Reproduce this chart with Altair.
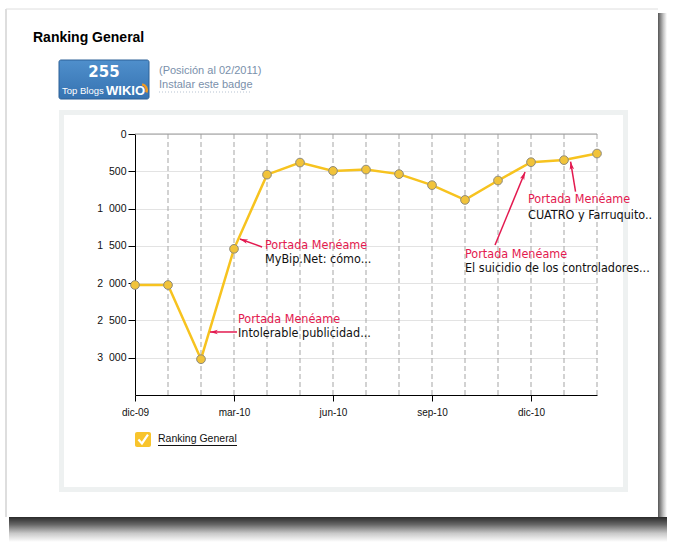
import math
import altair as alt
import pandas as pd

# ---------------- data ----------------
months = ["dic-09", "ene-10", "feb-10", "mar-10", "abr-10", "may-10", "jun-10",
          "jul-10", "ago-10", "sep-10", "oct-10", "nov-10", "dic-10", "ene-11", "feb-11"]
ranks = [2025, 2025, 3020, 1540, 545, 383, 495, 477, 538, 686, 884, 624, 378, 350, 262]
y_ticks = [0, 500, 1000, 1500, 2000, 2500, 3000]
x_tick_months = ["dic-09", "mar-10", "jun-10", "sep-10", "dic-10"]

ann_title = ["Portada Menéame"] * 4
ann_text = ["MyBip.Net: cómo...", "Intolerable publicidad...",
            "El suicidio de los controladores...", "CUATRO y Farruquito.."]
# annotation anchors in data units (month index, rank)
ann_tx = [3.94, 3.12, 10.0, 11.91]
ann_v1 = [1488, 2481, 1609, 876]
ann_v2 = [1676, 2669, 1797, 1086]
arr_x_tail = [3.85, 3.09, 10.91, 13.35]
arr_v_tail = [1515, 2655, 1488, 774]
arr_x_head = [3.18, 2.27, 11.82, 13.20]
arr_v_head = [1408, 2655, 510, 371]

# ---------------- layout ----------------
W, H = 462, 261
OX, OY = 135, 134
X_MAX, Y_MAX = 14, 3500


def X(v):
    return v - OX


def Y(v):
    return v - OY


CRIMSON = "#e3194f"
NARROW = "Liberation Sans Narrow, DejaVu Sans Condensed, Roboto Condensed, Arial Narrow, sans-serif"
SANS = "Liberation Sans, Arial, sans-serif"

xs = alt.Scale(domain=[0, X_MAX], nice=False, zero=False)
ys = alt.Scale(domain=[0, Y_MAX], reverse=True, nice=False, zero=False)

df = pd.DataFrame({"idx": list(range(len(months))), "month": months, "rank": ranks})

px_per_x = W / X_MAX
px_per_y = H / Y_MAX
angles = []
for xt, vt, xh, vh in zip(arr_x_tail, arr_v_tail, arr_x_head, arr_v_head):
    dx = (xh - xt) * px_per_x
    dy = (vh - vt) * px_per_y
    angles.append(math.degrees(math.atan2(dx, -dy)) % 360)

ann = pd.DataFrame({
    "t1": ann_title, "t2": ann_text, "tx": ann_tx, "v1": ann_v1, "v2": ann_v2,
    "xt": arr_x_tail, "vt": arr_v_tail, "xh": arr_x_head, "vh": arr_v_head, "ang": angles,
})

one = pd.DataFrame({"k": [0]})

label_months = "[" + ",".join("'" + m + "'" for m in months) + "]"
x_vals = [months.index(m) for m in x_tick_months]

x_axis = alt.Axis(
    values=x_vals, labelExpr=label_months + "[datum.value]", grid=False,
    tickSize=6, labelPadding=6, domainColor="#000", tickColor="#000",
    labelFont=SANS, labelFontSize=10, labelColor="#111", labelFlush=False, title=None)
y_axis = alt.Axis(
    values=y_ticks, labelExpr="replace(format(datum.value, ','), ',', '\u2007')",
    grid=True, gridColor="#e3e3e3", tickSize=7, labelPadding=2,
    domainColor="#000", tickColor="#000", labelFont=SANS, labelFontSize=10.5,
    labelColor="#111", title=None)


def XE(field):
    return alt.X(field, scale=xs, axis=x_axis, title=None)


def YE(field):
    return alt.Y(field, scale=ys, axis=y_axis, title=None)


def txt(s, x, y, size, color="#000", font=SANS, weight="normal", align="left"):
    return alt.Chart(one).mark_text(
        text=s, fontSize=size, color=color, font=font, fontWeight=weight,
        align=align, baseline="middle"
    ).encode(x=alt.value(X(x)), y=alt.value(Y(y)))


def rect(x1, y1, x2, y2, **kw):
    return alt.Chart(one).mark_rect(**kw).encode(
        x=alt.value(X(x1)), x2=alt.value(X(x2)), y=alt.value(Y(y1)), y2=alt.value(Y(y2)))


def hrule(x1, x2, y, **kw):
    return alt.Chart(one).mark_rule(**kw).encode(
        x=alt.value(X(x1)), x2=alt.value(X(x2)), y=alt.value(Y(y)))


def vrule(x, y1, y2, **kw):
    return alt.Chart(one).mark_rule(**kw).encode(
        x=alt.value(X(x)), y=alt.value(Y(y1)), y2=alt.value(Y(y2)))


# ---------------- page decoration (the white card is the page background) ----------------
shadow_right = rect(658, 13, 667, 536, fill=alt.Gradient(
    gradient="linear", x1=0, x2=1, y1=0, y2=0,
    stops=[alt.GradientStop(color="#555555", offset=0),
           alt.GradientStop(color="#c4c4c4", offset=0.6),
           alt.GradientStop(color="#ffffff", offset=1)]))
shadow_bottom = rect(9, 517, 667, 542, fill=alt.Gradient(
    gradient="linear", x1=0, x2=0, y1=0, y2=1,
    stops=[alt.GradientStop(color="#2a2a2a", offset=0),
           alt.GradientStop(color="#666666", offset=0.3),
           alt.GradientStop(color="#c8c8c8", offset=0.65),
           alt.GradientStop(color="#ffffff", offset=1)]))
card_left = vrule(6, 9, 517, color="#bdbdbd", strokeWidth=1)
card_top = hrule(6, 658, 9, color="#dedede", strokeWidth=1)

panel = rect(61.5, 112.5, 625.5, 489.5, fill="white", fillOpacity=0,
             stroke="#eef1f1", strokeWidth=5)

title = txt("Ranking General", 33, 38, 14, weight="bold")

badge = rect(59, 60, 149, 99, cornerRadius=2, stroke="#2d6197", strokeWidth=1,
             fill=alt.Gradient(gradient="linear", x1=0, x2=0, y1=0, y2=1,
                               stops=[alt.GradientStop(color="#4f8fcc", offset=0),
                                      alt.GradientStop(color="#3673b1", offset=1)]))
badge_num = txt("255", 104, 72, 15, color="white", font="DejaVu Sans", weight="bold", align="center")
badge_top = txt("Top Blogs", 62, 91, 9.5, color="white")
badge_wikio = txt("WIKIO", 106, 91, 13, color="white", weight="bold")
badge_swirl = alt.Chart(one).mark_arc(radius=7, radius2=4.5, theta=0.2, theta2=2.0,
                                      color="#f39a1c").encode(
    x=alt.value(X(141)), y=alt.value(Y(90)))
pos_txt = txt("(Posición al 02/2011)", 159, 71, 11, color="#7a90ab")
inst_txt = txt("Instalar este badge", 159, 85, 11, color="#7a90ab")
inst_ul = hrule(159, 252, 92, color="#b7c3d2", strokeDash=[1, 2], strokeWidth=1)

# legend
leg_box = rect(135, 432, 151, 447, fill="#f8c42c", cornerRadius=2)
leg_check = alt.Chart(one).mark_point(
    shape="M-0.65,0 L-0.15,0.55 L0.7,-0.7", filled=False, stroke="white",
    strokeWidth=2.2, size=200, opacity=1).encode(x=alt.value(X(143)), y=alt.value(Y(439.5)))
leg_txt = txt("Ranking General", 158, 439, 10.5, color="#111")
leg_ul = hrule(158, 237, 445.5, color="#111", strokeWidth=1)

# ---------------- chart ----------------
vgrid = alt.Chart(df[df["idx"] > 0]).mark_rule(
    color="#a5a5a5", strokeDash=[5, 3], strokeWidth=1).encode(x=XE("idx:Q"))
top_line = alt.Chart(one).mark_rule(color="#9a9a9a", strokeWidth=1).encode(
    y=alt.Y(datum=0, scale=ys, axis=y_axis))

line = alt.Chart(df).mark_line(color="#f7c31f", strokeWidth=2.5).encode(
    x=XE("idx:Q"), y=YE("rank:Q"))
points = alt.Chart(df).mark_point(filled=True, fill="#f1c33a", stroke="#8e8a7c",
                                  strokeWidth=1, size=76, opacity=1).encode(
    x=XE("idx:Q"), y=YE("rank:Q"))

arrows = alt.Chart(ann).mark_rule(color=CRIMSON, strokeWidth=1.5).encode(
    x=XE("xt:Q"), y=YE("vt:Q"), x2="xh:Q", y2="vh:Q")
heads = alt.Chart(ann).mark_point(
    shape="M0,0 L0.55,1.9 L0,1.4 L-0.55,1.9 Z", filled=True, fill=CRIMSON,
    strokeWidth=0, size=70, opacity=1).encode(
    x=XE("xh:Q"), y=YE("vh:Q"), angle=alt.Angle("ang:Q", scale=None))
ann1 = alt.Chart(ann).mark_text(align="left", baseline="middle", font=NARROW,
                                fontSize=12.5, color=CRIMSON).encode(
    x=XE("tx:Q"), y=YE("v1:Q"), text="t1:N")
ann2 = alt.Chart(ann).mark_text(align="left", baseline="middle", font=NARROW,
                                fontSize=12.5, color="#111").encode(
    x=XE("tx:Q"), y=YE("v2:Q"), text="t2:N")

chart = alt.layer(
    shadow_right, shadow_bottom, card_left, card_top, panel,
    title, badge, badge_num, badge_top, badge_wikio, badge_swirl,
    pos_txt, inst_txt, inst_ul,
    vgrid, top_line, line, points, arrows, heads, ann1, ann2,
    leg_box, leg_check, leg_txt, leg_ul,
).properties(
    width=W, height=H,
    padding={"left": OX, "top": OY, "right": 673 - OX - W, "bottom": 547 - OY - H},
    autosize=alt.AutoSizeParams(type="none"),
    background="white",
).configure_view(strokeWidth=0)

chart.save("out.html", embed_options={"renderer": "svg", "actions": False})
